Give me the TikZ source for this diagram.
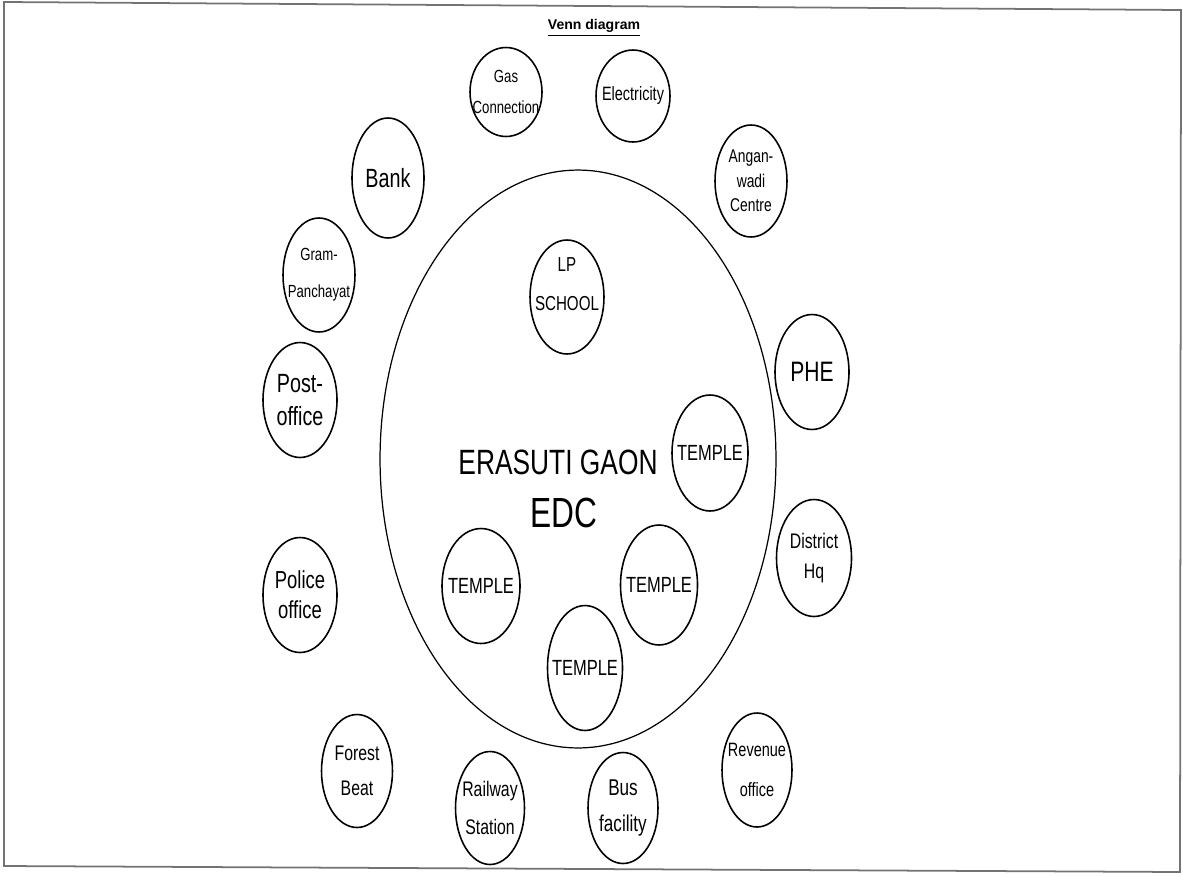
\documentclass[tikz,border=0pt]{standalone}
\usepackage{fontspec}
\setmainfont{Liberation Sans}
\newfontfamily\handfont[FakeStretch=0.75]{Liberation Sans}
\usetikzlibrary{
  positioning,
  shapes.geometric
}
\newcommand{\handsize}[2]{\handfont\fontsize{#1}{#2}\selectfont}

\tikzset{
  service/.style={draw, ellipse, line width=0.9pt, inner sep=0pt},
  scrawl/.style={inner sep=0pt, align=center}
}

\begin{document}
\begin{tikzpicture}[x=0.02cm, y=-0.02cm]
  \useasboundingbox (0,0) rectangle (1183,876);
  % scanned page frame
  \draw[black!55, line width=1pt] (4,2) -- (1181,10) -- (1180,872) -- (4,866) -- cycle;
  \node[font=\bfseries\fontsize{8}{9}\selectfont] (title) at (594,28) {\underline{Venn diagram}};

  % the village itself
  \node[draw, ellipse, line width=0.7pt, inner sep=0pt,
        minimum width=7.92cm, minimum height=11.56cm] (village) at (578,459) {};
  \node[font=\handsize{20}{24}] (villagename) at (558,462) {ERASUTI GAON};
  \node[font=\handsize{24}{28}] (edc) at (564,513) {EDC};

  % facilities inside the village
  \node[service, minimum width=1.48cm, minimum height=2.28cm] (school) at (567,297) {};
  \node[scrawl, font=\handsize{11.5}{22}] (school-text) at (567,284) {LP\\SCHOOL};
  \foreach \x/\y/\w/\h/\id in {
      710/453/1.52cm/2.32cm/templeA,
      481/586/1.56cm/2.30cm/templeB,
      659/585/1.54cm/2.40cm/templeC,
      585/668/1.50cm/2.50cm/templeD}{
    \node[service, minimum width=\w, minimum height=\h] (\id) at (\x,\y) {};
    \node[scrawl, font=\handsize{12.5}{22}] (\id-text) at (\id) {TEMPLE};
  }

  % services outside the village
  \foreach \x/\y/\w/\h/\id/\fs/\bs/\txt in {
      506/92/1.44cm/1.78cm/gas/10/18/{Gas\\Connection},
      633/96/1.48cm/1.84cm/elec/11/12/{Electricity},
      751/181/1.44cm/2.24cm/angan/10.5/14/{Angan-\\wadi\\Centre},
      388/178/1.44cm/2.40cm/bank/15/18/{Bank},
      319/275/1.44cm/2.28cm/gram/10/21/{Gram-\\Panchayat},
      300/400/1.48cm/2.30cm/post/15/19/{Post-\\office},
      300/595/1.48cm/2.30cm/police/14/17/{Police\\office},
      812/372/1.48cm/2.30cm/phe/16/18/{PHE},
      814/558/1.50cm/2.34cm/district/12/17/{District\\Hq},
      357/771/1.42cm/2.26cm/forest/12/20/{Forest\\Beat},
      490/808/1.38cm/2.26cm/rail/12/22/{Railway\\Station},
      623/808/1.40cm/2.22cm/bus/13/20/{Bus\\facility},
      757/770/1.40cm/2.28cm/revenue/11/23/{Revenue\\office}}{
    \node[service, minimum width=\w, minimum height=\h] (\id) at (\x,\y) {};
    \node[scrawl, font=\handsize{\fs}{\bs}] (\id-text) at (\id) {\txt};
  }
\end{tikzpicture}
\end{document}
